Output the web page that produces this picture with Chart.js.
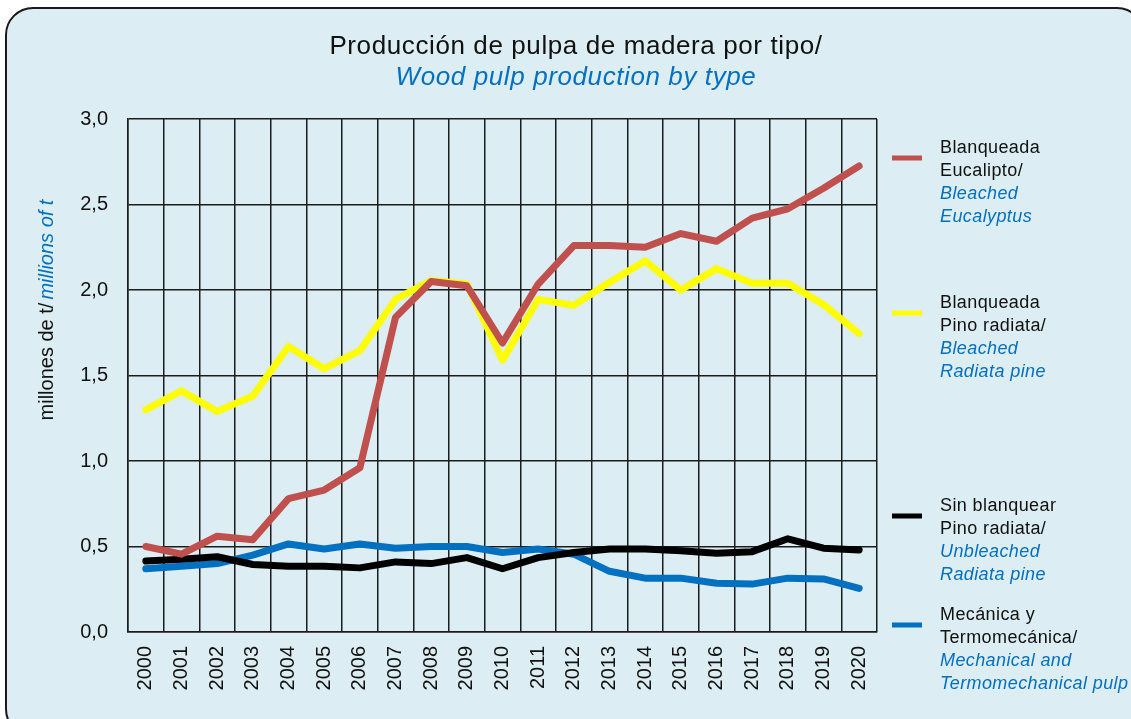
<!DOCTYPE html>
<html lang="es">
<head>
<meta charset="utf-8">
<title>Producción de pulpa de madera por tipo</title>
<script src="https://cdn.jsdelivr.net/npm/chart.js@4.4.1/dist/chart.umd.min.js"></script>
<style>
  html, body {
    margin: 0;
    padding: 0;
    background: #ffffff;
    overflow: hidden;
  }
  #panel {
    position: absolute;
    left: 5px;
    top: 7px;
    width: 1140px;
    height: 730px;
    box-sizing: border-box;
    border: 2px solid #1a1a1a;
    border-radius: 28px;
    background: #dcedf3;
  }
  #wrap {
    position: absolute;
    left: 0;
    top: 0;
    width: 1131px;
    height: 719px;
  }
</style>
</head>
<body>
<div id="panel"></div>
<div id="wrap"><canvas id="pulpChart" width="1131" height="719"></canvas></div>
<script>
const years = ['2000', '2001', '2002', '2003', '2004', '2005', '2006', '2007', '2008', '2009', '2010',
  '2011', '2012', '2013', '2014', '2015', '2016', '2017', '2018', '2019', '2020'];

// millones de t
const bleachedEucalyptus = [0.50, 0.455, 0.56, 0.54, 0.78, 0.83, 0.96, 1.84, 2.05, 2.025, 1.69,
  2.035, 2.26, 2.26, 2.25, 2.33, 2.285, 2.42, 2.475, 2.595, 2.725];
const bleachedRadiata = [1.30, 1.41, 1.29, 1.38, 1.67, 1.54, 1.645, 1.945, 2.055, 2.035, 1.59,
  1.945, 1.91, 2.045, 2.17, 2.0, 2.125, 2.04, 2.04, 1.915, 1.745];
const unbleachedRadiata = [0.415, 0.425, 0.44, 0.395, 0.385, 0.385, 0.375, 0.41, 0.40, 0.435, 0.37,
  0.435, 0.465, 0.485, 0.485, 0.475, 0.46, 0.47, 0.545, 0.49, 0.48];
const mechanicalPulp = [0.37, 0.385, 0.40, 0.45, 0.515, 0.485, 0.515, 0.49, 0.50, 0.50, 0.465,
  0.485, 0.455, 0.355, 0.315, 0.315, 0.285, 0.28, 0.315, 0.31, 0.255];

const yTicks = [0, 0.5, 1, 1.5, 2, 2.5, 3];

const seriesColors = ['#c0504d', '#ffff00', '#000000', '#0070c0'];

// Legend: black Spanish lines, then blue italic English lines
const legendEs = [
  ['Blanqueada', 'Eucalipto/'],
  ['Blanqueada', 'Pino radiata/'],
  ['Sin blanquear', 'Pino radiata/'],
  ['Mecánica y', 'Termomecánica/'],
];
const legendEn = [
  ['Bleached', 'Eucalyptus'],
  ['Bleached', 'Radiata pine'],
  ['Unbleached', 'Radiata pine'],
  ['Mechanical and', 'Termomechanical pulp'],
];
const legendTops = [148, 303, 506, 615];

const titleEs = 'Producción de pulpa de madera por tipo/';
const titleEn = 'Wood pulp production by type';
const axisEs = 'millones de t/';
const axisEn = 'millions of t';

const FONT = '"Liberation Sans", Arial, sans-serif';
const BLUE_TEXT = '#0070c0';
const INK = '#111111';

const decorations = {
  id: 'decorations',
  afterDraw(chart) {
    const ctx = chart.ctx;
    ctx.save();
    ctx.textBaseline = 'middle';

    // heading, two lines
    ctx.textAlign = 'center';
    ctx.letterSpacing = '0.6px';
    ctx.fillStyle = INK;
    ctx.font = `26px ${FONT}`;
    ctx.fillText(titleEs, 576, 47);
    ctx.fillStyle = BLUE_TEXT;
    ctx.font = `italic 26px ${FONT}`;
    ctx.fillText(titleEn, 576, 78);

    // vertical axis title, mixed colours
    ctx.letterSpacing = '0px';
    ctx.translate(47, 310);
    ctx.rotate(-Math.PI / 2);
    ctx.font = `20px ${FONT}`;
    const wEs = ctx.measureText(axisEs).width + 3;
    ctx.font = `italic 20px ${FONT}`;
    const wEn = ctx.measureText(axisEn).width;
    let x = -(wEs + wEn) / 2;
    ctx.textAlign = 'left';
    ctx.font = `20px ${FONT}`;
    ctx.fillStyle = INK;
    ctx.fillText(axisEs, x, 0);
    x += wEs;
    ctx.font = `italic 20px ${FONT}`;
    ctx.fillStyle = BLUE_TEXT;
    ctx.fillText(axisEn, x, 0);
    ctx.setTransform(1, 0, 0, 1, 0, 0);

    // legend
    const lineGap = 23;
    ctx.textAlign = 'left';
    ctx.letterSpacing = '0.4px';
    legendTops.forEach((top, i) => {
      ctx.strokeStyle = seriesColors[i];
      ctx.lineWidth = 5;
      ctx.beginPath();
      ctx.moveTo(892, top + 10);
      ctx.lineTo(922, top + 10);
      ctx.stroke();
      ctx.font = `18px ${FONT}`;
      ctx.fillStyle = INK;
      legendEs[i].forEach((line, j) => ctx.fillText(line, 940, top + j * lineGap));
      ctx.font = `italic 18px ${FONT}`;
      ctx.fillStyle = BLUE_TEXT;
      legendEn[i].forEach((line, j) => ctx.fillText(line, 940, top + (j + 2) * lineGap));
    });
    ctx.restore();
  },
};

function lineSet(label, data, color) {
  return {
    label,
    data,
    borderColor: color,
    backgroundColor: color,
    borderWidth: 7,
    pointRadius: 0,
    tension: 0,
    fill: false,
    borderCapStyle: 'round',
    borderJoinStyle: 'round',
  };
}

const ctx = document.getElementById('pulpChart').getContext('2d');
new Chart(ctx, {
  type: 'line',
  data: {
    labels: years,
    datasets: [
      lineSet('Blanqueada Eucalipto', bleachedEucalyptus, seriesColors[0]),
      lineSet('Blanqueada Pino radiata', bleachedRadiata, seriesColors[1]),
      lineSet('Sin blanquear Pino radiata', unbleachedRadiata, seriesColors[2]),
      lineSet('Mecánica y Termomecánica', mechanicalPulp, seriesColors[3]),
    ],
  },
  options: {
    responsive: false,
    animation: false,
    layout: {
      padding: { top: 119, right: 254, bottom: 7, left: 68 },
    },
    plugins: {
      legend: { display: false },
      title: { display: false },
      tooltip: { enabled: false },
    },
    scales: {
      x: {
        type: 'category',
        offset: true,
        afterFit(scale) {
          scale.height = 80;
        },
        grid: {
          offset: true,
          color: '#1c1c1c',
          lineWidth: 1.5,
          drawTicks: false,
        },
        border: { color: '#1c1c1c', width: 1.5 },
        ticks: {
          color: INK,
          font: { family: FONT, size: 20 },
          minRotation: 90,
          maxRotation: 90,
          padding: 14,
          autoSkip: false,
        },
      },
      y: {
        min: 0,
        max: 3,
        afterFit(scale) {
          scale.width = 60;
        },
        afterBuildTicks(scale) {
          scale.ticks = yTicks.map((value) => ({ value }));
        },
        grid: {
          color: '#1c1c1c',
          lineWidth: 1.5,
          drawTicks: false,
        },
        border: { color: '#1c1c1c', width: 1.5 },
        ticks: {
          color: INK,
          font: { family: FONT, size: 20 },
          padding: 20,
          callback(value) {
            return Number(value).toFixed(1).replace('.', ',');
          },
        },
      },
    },
  },
  plugins: [decorations],
});
</script>
</body>
</html>
